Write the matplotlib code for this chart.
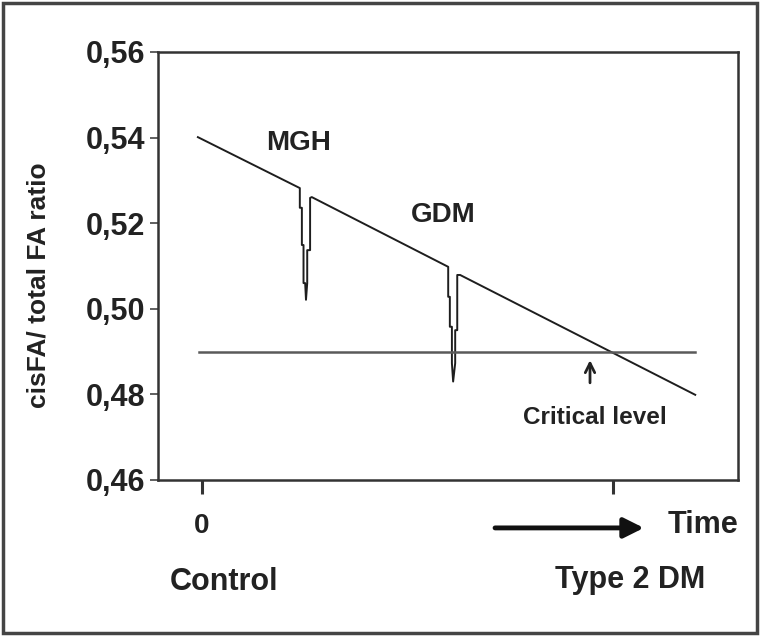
import matplotlib
matplotlib.use("Agg")
import matplotlib.pyplot as plt
from matplotlib.patches import Rectangle

plt.rcParams['font.family'] = ['Liberation Sans', 'DejaVu Sans']
plt.rcParams['font.weight'] = 'bold'

# ratio trend with the two dips (MGH, GDM)
trend_x = [-0.10, 2.38, 2.38, 2.43, 2.43, 2.47, 2.47, 2.51, 2.53, 2.56, 2.56, 2.63, 2.63, 2.67,
           5.99, 5.99, 6.03, 6.03, 6.08, 6.08, 6.11, 6.16, 6.16, 6.21, 6.21, 6.28, 12.0]
trend_y = [0.5401, 0.5282, 0.5236, 0.5236, 0.5149, 0.5149, 0.5060, 0.5060, 0.5021, 0.5060, 0.5137, 0.5137, 0.5259, 0.5261,
           0.5098, 0.5028, 0.5028, 0.4958, 0.4958, 0.4873, 0.4830, 0.4873, 0.4950, 0.4950, 0.5079, 0.5079, 0.4799]

critical_x = [-0.07, 12.0]
critical_level = 0.49

yticks = [0.46, 0.48, 0.50, 0.52, 0.54, 0.56]
ytick_labels = ['0,46', '0,48', '0,50', '0,52', '0,54', '0,56']
xticks = [0, 10]
xtick_labels = ['0', '']

fig = plt.figure(figsize=(7.63, 6.37), dpi=100)
ax = fig.add_axes([0.2071, 0.2465, 0.7601, 0.6719])

ax.plot(trend_x, trend_y, color='#1e1e1e', lw=1.4)
ax.plot(critical_x, [critical_level, critical_level], color='#5a5a5a', lw=1.8)

ax.set_xlim(-1.07, 13.04)
ax.set_ylim(0.46, 0.56)
ax.set_yticks(yticks)
ax.set_yticklabels(ytick_labels, fontsize=22, fontweight='bold', color='#222')
ax.set_xticks(xticks)
ax.set_xticklabels(xtick_labels, fontsize=20, fontweight='bold', color='#222')
ax.tick_params(axis='y', length=6, width=1.2, color='#444', pad=3)
ax.tick_params(axis='x', length=10, width=2.2, color='#333', pad=14)
for s in ax.spines.values():
    s.set_color('#333')
    s.set_linewidth(1.8)

ax.set_ylabel('cisFA/ total FA ratio', fontsize=19, fontweight='bold', color='#222')
ax.yaxis.set_label_coords(-0.186, 0.456)

ax.text(2.34, 0.5387, 'MGH', fontsize=20, ha='center', va='center', color='#222')
ax.text(5.86, 0.5219, 'GDM', fontsize=20, ha='center', va='center', color='#222')
ax.text(9.56, 0.4745, 'Critical level', fontsize=17.5, ha='center', va='center', color='#222')
ax.annotate('', xy=(9.44, 0.4880), xytext=(9.44, 0.4827),
            arrowprops=dict(arrowstyle='->', lw=2.0, color='#222', mutation_scale=17,
                            shrinkA=0, shrinkB=0))

# labels under the axis
ax.text(0.535, 0.4362, 'Control', fontsize=22, ha='center', va='center', color='#222', clip_on=False)
ax.text(10.41, 0.4366, 'Type 2 DM', fontsize=22, ha='center', va='center', color='#222', clip_on=False)
ax.text(12.19, 0.4495, 'Time', fontsize=22, ha='center', va='center', color='#222', clip_on=False)
ax.annotate('', xy=(10.75, 0.4488), xytext=(7.13, 0.4488), annotation_clip=False,
            arrowprops=dict(arrowstyle='-|>', lw=3.5, color='#111', mutation_scale=30,
                            shrinkA=0, shrinkB=0))

fig.patches.append(Rectangle((3 / 763, 1 - 633 / 637), 754 / 763, 630 / 637,
                             transform=fig.transFigure, fill=False, ec='#444', lw=2.5))

fig.savefig('out.png', dpi=100)
